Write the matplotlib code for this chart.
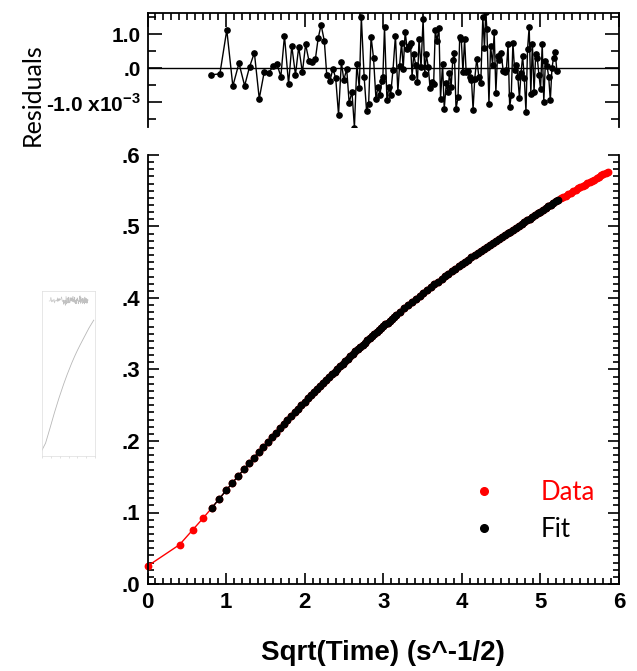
import matplotlib.pyplot as plt
from matplotlib.lines import Line2D
from matplotlib.ticker import MultipleLocator, FixedLocator

# sqrt(time) of each plotted point (s^-1/2) and the measured signal
data_x = [0.0, 0.408, 0.577, 0.707, 0.816, 0.913, 1.000, 1.080, 1.155, 1.225,
          1.291, 1.354, 1.414, 1.472, 1.528, 1.581, 1.633, 1.683, 1.732, 1.780,
          1.826, 1.871, 1.915, 1.958, 2.000,
          2.041, 2.082, 2.121, 2.160, 2.198, 2.236, 2.273, 2.309, 2.345, 2.380,
          2.415, 2.449, 2.483, 2.517, 2.550, 2.582, 2.614, 2.646, 2.677, 2.708,
          2.739, 2.769, 2.799, 2.828, 2.858, 2.887, 2.916, 2.944, 2.972, 3.000,
          3.028, 3.055, 3.082, 3.109, 3.136, 3.162,
          3.215, 3.266, 3.317, 3.367, 3.416, 3.464, 3.512, 3.559, 3.606, 3.651,
          3.697, 3.742, 3.786, 3.830, 3.873, 3.916, 3.958, 4.000, 4.041, 4.082,
          4.123, 4.163, 4.203, 4.243, 4.282, 4.320, 4.359, 4.397, 4.435, 4.472,
          4.509, 4.546, 4.583, 4.619, 4.655, 4.690, 4.726, 4.761, 4.796, 4.830,
          4.865, 4.899, 4.933, 4.967, 5.000, 5.033, 5.066, 5.099, 5.132, 5.164,
          5.196, 5.228,
          5.260, 5.292, 5.323, 5.354, 5.385, 5.416, 5.447, 5.477, 5.508, 5.538,
          5.568, 5.598, 5.627, 5.657, 5.686, 5.715, 5.745, 5.774, 5.802, 5.831,
          5.859]
data_y = [0.025, 0.055, 0.076, 0.092, 0.1061, 0.1192, 0.1308, 0.1415, 0.1512, 0.1603,
          0.1688, 0.1769, 0.1845, 0.1917, 0.1986, 0.2052, 0.2115, 0.2176, 0.2235, 0.2291,
          0.2346, 0.2399, 0.2451, 0.2500, 0.2549,
          0.2596, 0.2642, 0.2687, 0.2730, 0.2773, 0.2815, 0.2855, 0.2895, 0.2934, 0.2972,
          0.3010, 0.3046, 0.3082, 0.3117, 0.3152, 0.3186, 0.3219, 0.3252, 0.3284, 0.3315,
          0.3346, 0.3377, 0.3407, 0.3436, 0.3466, 0.3494, 0.3522, 0.3550, 0.3577, 0.3604,
          0.3631, 0.3657, 0.3683, 0.3708, 0.3733, 0.3758,
          0.3807, 0.3854, 0.3900, 0.3945, 0.3989, 0.4031, 0.4073, 0.4114, 0.4154, 0.4193,
          0.4230, 0.4268, 0.4304, 0.4340, 0.4375, 0.4409, 0.4442, 0.4475, 0.4507, 0.4538,
          0.4569, 0.4599, 0.4629, 0.4658, 0.4687, 0.4715, 0.4742, 0.4769, 0.4796, 0.4822,
          0.4849, 0.4876, 0.4903, 0.4929, 0.4955, 0.4981, 0.5007, 0.5033, 0.5058, 0.5084,
          0.5109, 0.5134, 0.5158, 0.5183, 0.5207, 0.5232, 0.5256, 0.5280, 0.5304, 0.5327,
          0.5351, 0.5374,
          0.5394, 0.5416, 0.5431, 0.5455, 0.5470, 0.5494, 0.5508, 0.5532, 0.5546, 0.5568,
          0.5583, 0.5606, 0.5620, 0.5643, 0.5656, 0.5679, 0.5693, 0.5716, 0.5728, 0.5751,
          0.5764]

# the fit covers points 4 .. 112 (0.816 to 5.228)
fit_x = data_x[4:113]
fit_y = data_y[4:113]

# residuals, in units of 1e-3
resid_x = [0.812, 0.921, 1.009, 1.086, 1.164, 1.236, 1.298, 1.360, 1.422, 1.485,
           1.541, 1.598, 1.645, 1.697, 1.743, 1.795, 1.836, 1.883, 1.924, 1.971,
           2.012, 2.054, 2.095, 2.136, 2.172, 2.209, 2.250, 2.281, 2.322, 2.359,
           2.395, 2.431, 2.467, 2.498, 2.535, 2.566, 2.602, 2.633, 2.664, 2.695,
           2.721, 2.757, 2.788, 2.814, 2.845, 2.876, 2.907, 2.933, 2.959, 2.979,
           2.995, 3.016, 3.047, 3.072, 3.093, 3.124, 3.155, 3.186, 3.207, 3.233,
           3.254, 3.279, 3.305, 3.326, 3.347, 3.367, 3.388, 3.414, 3.435, 3.455,
           3.481, 3.507, 3.528, 3.548, 3.574, 3.595, 3.616, 3.641, 3.662, 3.683,
           3.709, 3.729, 3.755, 3.776, 3.802, 3.822, 3.843, 3.864, 3.885, 3.905,
           3.926, 3.952, 3.973, 3.993, 4.014, 4.035, 4.055, 4.076, 4.102, 4.123,
           4.143, 4.164, 4.190, 4.216, 4.241, 4.267, 4.288, 4.304, 4.319, 4.345,
           4.366, 4.391, 4.412, 4.433, 4.454, 4.474, 4.500, 4.526, 4.547, 4.567,
           4.588, 4.609, 4.629, 4.650, 4.671, 4.691, 4.712, 4.733, 4.753, 4.774,
           4.795, 4.816, 4.836, 4.857, 4.878, 4.898, 4.919, 4.940, 4.960, 4.981,
           5.002, 5.023, 5.043, 5.064, 5.085, 5.105, 5.126, 5.147, 5.167, 5.188,
           5.209]
resid_y = [-0.20, -0.17, 1.12, -0.53, 0.14, -0.52, 0.03, 0.45, -0.90, -0.12,
           -0.15, 0.05, 0.13, -0.25, 0.95, -0.47, 0.65, -0.20, 0.62, -0.13,
           0.70, 0.22, 0.18, 0.26, 0.88, 1.27, 0.80, -0.20, -0.38, -0.02,
           -0.30, -1.37, 0.18, -0.35, -0.03, -1.02, -0.70, -1.75, 0.12, -0.60,
           1.50, -0.27, -1.27, -1.05, 0.92, 0.30, -0.90, -0.55, -0.80, -0.38,
           -0.27, 1.20, -0.95, -0.55, -0.80, -0.05, 0.95, -0.70, 0.05, 0.75,
           -0.02, 1.07, 0.55, 0.65, 0.75, -0.25, 0.40, 0.08, -0.42, 0.85,
           0.03, 1.45, -0.18, 0.40, 0.02, -0.58, -0.42, -0.48, 1.12, 0.80,
           1.18, -0.90, 0.12, -1.20, -0.45, -0.70, -0.15, -0.55, 0.25, 0.45,
           -1.20, -0.85, 0.92, 0.85, -0.12, 0.85, -0.12, -0.08, -0.25, -0.35,
           -1.22, -0.32, 0.28, -0.25, -0.45, 1.50, 0.60, 1.65, 1.15, -1.05,
           0.65, 0.10, 1.05, -0.72, 0.35, 0.25, 0.45, -0.08, -0.12, -0.05,
           0.70, -1.15, -0.80, 0.75, -0.05, 0.10, -0.25, -0.88, -0.15, 0.35,
           -0.30, -1.28, 0.55, 1.22, -0.75, 0.70, -0.70, 0.40, 0.30, -0.20,
           -0.62, 0.72, -1.00, 0.22, 0.05, -0.25, -0.95, 0.00, 0.30, 0.47,
           -0.08]

x_ticks = [0, 1, 2, 3, 4, 5, 6]
y_ticks = [0.0, 0.1, 0.2, 0.3, 0.4, 0.5, 0.6]
y_labels = ['.0', '.1', '.2', '.3', '.4', '.5', '.6']
r_ticks = [-1.0, 0.0, 1.0]
r_labels = [r'-1.0 x10$^{\mathregular{-3}}$', '.0', '1.0']

tick_font = 'Liberation Sans'
text_font = ['Lato', 'DejaVu Sans']

fig = plt.figure(figsize=(6.37, 6.71), dpi=100)
L, W = 147.5 / 637, 471.5 / 637
ax = fig.add_axes([L, 87 / 671, W, 429 / 671])
axr = fig.add_axes([L, 544 / 671, W, 114 / 671])

# main panel
ax.plot(data_x, data_y, color='red', lw=1, marker='o', ms=4.6, mec='red', zorder=2,
        clip_on=False)
ax.plot(fit_x, fit_y, color='black', lw=1, marker='o', ms=4.6, zorder=3)
ax.set_xlim(0, 6)
ax.set_ylim(0, 0.6)
ax.spines['top'].set_visible(False)
for s in ['left', 'bottom', 'right']:
    ax.spines[s].set_linewidth(1.3)
ax.xaxis.set_major_locator(FixedLocator(x_ticks))
ax.xaxis.set_minor_locator(MultipleLocator(0.1))
ax.yaxis.set_major_locator(FixedLocator(y_ticks))
ax.yaxis.set_minor_locator(MultipleLocator(0.01))
ax.set_yticklabels(y_labels)
ax.tick_params(which='both', direction='in', right=True, top=False, width=1.2)
ax.tick_params(which='major', length=8)
ax.tick_params(which='minor', length=4.5)
ax.tick_params(axis='x', pad=6)
ax.tick_params(axis='y', pad=5)
for lab in ax.get_xticklabels() + ax.get_yticklabels():
    lab.set_fontfamily(tick_font)
    lab.set_fontweight('bold')
    lab.set_fontsize(16)
ax.set_xlabel('Sqrt(Time) (s^-1/2)', fontfamily=tick_font, fontweight='bold', fontsize=20)
ax.xaxis.set_label_coords(0.5, -0.160)
ax.xaxis.label.set_va('center')

handles = [Line2D([], [], ls='none', marker='o', ms=5.5, color='red'),
           Line2D([], [], ls='none', marker='o', ms=5.5, color='black')]
leg = ax.legend(handles, ['Data', 'Fit'], loc='center left', bbox_to_anchor=(0.686, 0.170),
                frameon=False, handlelength=1.0, handletextpad=1.7, labelspacing=0.47,
                borderpad=0, borderaxespad=0, prop={'family': text_font, 'size': 18.5})
for t, c in zip(leg.get_texts(), ['red', 'black']):
    t.set_color(c)

# residual panel
axr.axhline(0, color='black', lw=1, zorder=1)
axr.plot(resid_x, resid_y, color='black', lw=1, marker='o', ms=3.8, zorder=2)
axr.set_xlim(0, 6)
axr.set_ylim(-1.735, 1.62)
axr.spines['bottom'].set_visible(False)
for s in ['left', 'top', 'right']:
    axr.spines[s].set_linewidth(1.3)
axr.xaxis.set_major_locator(FixedLocator(x_ticks))
axr.xaxis.set_minor_locator(MultipleLocator(0.1))
axr.yaxis.set_major_locator(FixedLocator(r_ticks))
axr.yaxis.set_minor_locator(MultipleLocator(0.5))
axr.set_yticklabels(r_labels)
axr.tick_params(which='both', direction='in', top=True, bottom=False, right=True,
                labelbottom=False, width=1.2)
axr.tick_params(which='major', length=10)
axr.tick_params(which='minor', length=6)
axr.tick_params(axis='x', which='minor', length=5)
axr.tick_params(axis='y', pad=5)
for lab in axr.get_yticklabels():
    lab.set_fontfamily(tick_font)
    lab.set_fontweight('bold')
    lab.set_fontsize(15)
axr.set_ylabel('Residuals', fontfamily=text_font, fontsize=18)
axr.yaxis.set_label_coords(-0.22, 0.28)

# faint thumbnail of the same chart at the left
axt = fig.add_axes([42 / 637, 215 / 671, 53 / 637, 165 / 671])
axt.plot(data_x, data_y, color='#888888', lw=0.6, alpha=0.6)
axt.plot(resid_x, [0.66 + 0.012 * r for r in resid_y], color='#999999', lw=0.4, alpha=0.6)
axt.set_xlim(0, 6)
axt.set_ylim(0, 0.7)
axt.set_xticks(x_ticks)
axt.set_yticks([])
axt.tick_params(labelbottom=False, length=1.5, width=0.4, colors='#cccccc')
for s in axt.spines.values():
    s.set_color('#dddddd')
    s.set_linewidth(0.5)

fig.savefig('out.png', dpi=100)
